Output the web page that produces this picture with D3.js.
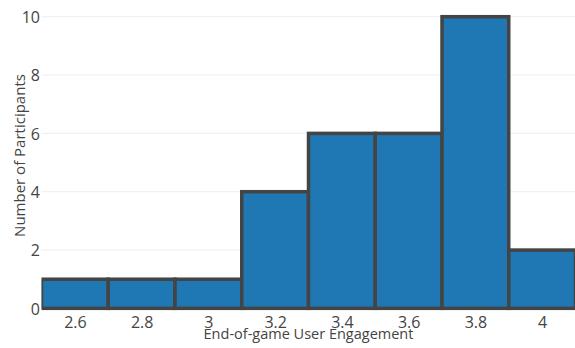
<!DOCTYPE html>
<html><head><meta charset="utf-8">
<script src="https://cdn.jsdelivr.net/npm/d3@7"></script>
<style>body{margin:0;background:#fff;} text{font-family:"Open Sans",sans-serif;}</style>
</head><body>
<svg id="c" width="575" height="348"></svg>
<script>
const binStarts = [2.5, 2.7, 2.9, 3.1, 3.3, 3.5, 3.7, 3.9];
const binWidth = 0.2;
const counts = [1, 1, 1, 4, 6, 6, 10, 2];
const xTicks = [2.6, 2.8, 3, 3.2, 3.4, 3.6, 3.8, 4];
const yTicks = [0, 2, 4, 6, 8, 10];
const xTitle = "End-of-game User Engagement";
const yTitle = "Number of Participants";

const svg = d3.select("#c");
const L = 41.5, R = 575.5, T = 16.7, B = 308.4;
const x = d3.scaleLinear().domain([2.5, 4.1]).range([L, R]);
const y = d3.scaleLinear().domain([0, 10]).range([B, T]);

svg.append("defs").append("clipPath").attr("id","clip")
  .append("rect").attr("x", L).attr("y", 0).attr("width", R - L).attr("height", B + 2);

// grid
svg.append("g").selectAll("line").data(yTicks.filter(d => d > 0)).join("line")
  .attr("x1", L).attr("x2", 575).attr("y1", d => y(d)).attr("y2", d => y(d))
  .attr("stroke", "#eee").attr("stroke-width", 1);

// bars
svg.append("g").attr("clip-path","url(#clip)").selectAll("rect").data(binStarts).join("rect")
  .attr("x", (d) => x(d)).attr("width", d => x(d + binWidth) - x(d))
  .attr("y", (d, i) => y(counts[i])).attr("height", (d, i) => y(0) - y(counts[i]))
  .attr("fill", "#1f77b4").attr("stroke", "#444").attr("stroke-width", 3.5);

// x axis labels
const xa = d3.axisBottom(x).tickValues(xTicks).tickFormat(d3.format("")).tickSize(0).tickPadding(0);
const gx = svg.append("g").attr("transform", `translate(0,${B})`).call(xa);
gx.select(".domain").remove();
gx.selectAll("text").attr("font-size", 16).attr("fill", "#444").attr("dy", null).attr("y", 20)
  .attr("font-family", "Open Sans");

// y axis labels
const ya = d3.axisLeft(y).tickValues(yTicks).tickSize(0).tickPadding(0);
const gy = svg.append("g").attr("transform", `translate(40,0)`).call(ya);
gy.select(".domain").remove();
gy.selectAll("text").attr("font-size", 16).attr("fill", "#444").attr("dy", "0.36em")
  .attr("font-family", "Open Sans");

// titles
svg.append("text").attr("x", 308.5).attr("y", 339).attr("text-anchor", "middle")
  .attr("font-size", 14.5).attr("fill", "#444").text(xTitle);
svg.append("text").attr("transform", `translate(25,155.5) rotate(-90)`)
  .attr("text-anchor", "middle").attr("font-size", 15).attr("fill", "#444").text(yTitle);
</script>
</body></html>
